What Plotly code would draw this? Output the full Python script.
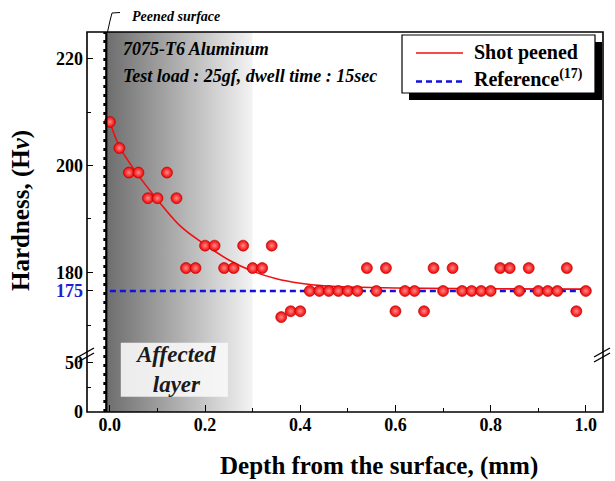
import base64
import plotly.graph_objects as go

# ---------------- data ----------------
depth = [0.00, 0.02, 0.04, 0.06, 0.08, 0.10, 0.12, 0.14, 0.16, 0.18,
         0.20, 0.22, 0.24, 0.26, 0.28, 0.30, 0.32, 0.34, 0.36, 0.38,
         0.40, 0.42, 0.44, 0.46, 0.48, 0.50, 0.52, 0.54, 0.56, 0.58,
         0.60, 0.62, 0.64, 0.66, 0.68, 0.70, 0.72, 0.74, 0.76, 0.78,
         0.80, 0.82, 0.84, 0.86, 0.88, 0.90, 0.92, 0.94, 0.96, 0.98, 1.00]
hardness = [208.2, 203.3, 198.7, 198.7, 193.9, 193.9, 198.7, 193.9, 180.8, 180.8,
            185.0, 185.0, 180.8, 180.8, 185.0, 180.8, 180.8, 185.0, 171.6, 172.7,
            172.7, 176.5, 176.5, 176.5, 176.5, 176.5, 176.5, 180.8, 176.5, 180.8,
            172.7, 176.5, 176.5, 172.7, 180.8, 176.5, 180.8, 176.5, 176.5, 176.5,
            176.5, 180.8, 180.8, 176.5, 180.8, 176.5, 176.5, 176.5, 180.8, 172.7, 176.5]

fit_depth = [0.00, 0.02, 0.05, 0.10, 0.15, 0.20, 0.25, 0.30, 0.35, 0.40,
             0.45, 0.50, 0.60, 0.80, 1.00]
fit_hardness = [208.2, 203.6, 199.4, 193.6, 188.5, 185.2, 182.3, 180.2, 178.8, 177.95,
                177.45, 177.25, 177.05, 176.9, 176.85]

ref_depth = [0.0, 1.0]
ref_value = 176.5          # position of the dashed reference line (labelled 175)
ref_label = "175"

series_names = ["Shot peened", "Reference<sup>(17)</sup>"]

x_ticks = [0.0, 0.2, 0.4, 0.6, 0.8, 1.0]
x_ticktext = ["0.0", "0.2", "0.4", "0.6", "0.8", "1.0"]
x_minor = [0.1, 0.3, 0.5, 0.7, 0.9]
y_upper_ticks = [180, 200, 220]
y_upper_minor = [170, 190, 210]
y_lower_ticks = [0, 50]
y_lower_minor = [25]

affected_limit = 0.3

# ---------------- style ----------------
SERIF = "Liberation Serif"
W, H = 615, 481
ML, MR, MT, MB = 87, 12, 32, 69
PW, PH = W - ML - MR, H - MT - MB
split = 0.158
RED = "#ee1111"
BLUE = "#1010e0"

def px_x(p):
    return (p - ML) / PW

def px_y(p):
    return (H - MB - p) / PH

fig = go.Figure()

# fitted curve
fig.add_trace(go.Scatter(
    x=fit_depth, y=fit_hardness, mode="lines", name=series_names[0],
    line=dict(color=RED, width=1.6, shape="spline", smoothing=1.0),
    xaxis="x", yaxis="y"))
# reference
fig.add_trace(go.Scatter(
    x=ref_depth, y=[ref_value] * len(ref_depth), mode="lines",
    name=series_names[1],
    line=dict(color=BLUE, width=2.5, dash="6px,4px"),
    xaxis="x", yaxis="y"))
# data points
fig.add_trace(go.Scatter(
    x=depth, y=hardness, mode="markers", showlegend=False,
    marker=dict(size=11, color="#f20000",
                gradient=dict(type="radial", color="#ff8a8a"),
                line=dict(color="#b00000", width=0.6)),
    xaxis="x", yaxis="y"))
# empty trace so that the lower (broken) axis segment exists
fig.add_trace(go.Scatter(x=[None], y=[None], mode="markers", showlegend=False,
                         hoverinfo="skip", xaxis="x", yaxis="y2"))

# gradient background image (SVG)
svg = ('<svg xmlns="http://www.w3.org/2000/svg" width="200" height="100" '
       'preserveAspectRatio="none" viewBox="0 0 200 100">'
       '<defs><linearGradient id="g" x1="0" x2="1" y1="0" y2="0">'
       '<stop offset="0" stop-color="#6e6e6e"/>'
       '<stop offset="1" stop-color="#f3f3f3"/></linearGradient></defs>'
       '<rect width="200" height="100" fill="url(#g)"/></svg>')
src = "data:image/svg+xml;base64," + base64.b64encode(svg.encode()).decode()
fig.add_layout_image(dict(source=src, xref="x", yref="paper", x=-0.006, y=1,
                          sizex=affected_limit + 0.006, sizey=1, sizing="stretch",
                          xanchor="left", yanchor="top", layer="below"))

tickfont = dict(family=SERIF, size=18, color="black", weight="bold")

fig.update_layout(
    width=W, height=H,
    margin=dict(l=ML, r=MR, t=MT, b=MB),
    paper_bgcolor="white", plot_bgcolor="rgba(0,0,0,0)",
    showlegend=False,
    xaxis=dict(domain=[0, 1], anchor="y2", range=[-0.048, 1.036],
               tickvals=x_ticks, ticktext=x_ticktext, ticks="inside",
               ticklen=7, tickwidth=1.2, tickcolor="black",
               minor=dict(tickvals=x_minor, ticks="inside", ticklen=4,
                          tickcolor="black", showgrid=False),
               showgrid=False, zeroline=False, showline=False,
               tickfont=tickfont, automargin=False),
    yaxis=dict(domain=[split, 1], anchor="x", range=[165.06, 225.06],
               tickvals=[ref_value] + y_upper_ticks,
               ticktext=['<span style="color:#2020d0">' + ref_label + '</span>']
                        + [str(v) for v in y_upper_ticks],
               ticks="inside", ticklen=6, tickwidth=1.2, tickcolor="black",
               minor=dict(tickvals=y_upper_minor, ticks="inside", ticklen=4,
                          tickcolor="black", showgrid=False),
               showgrid=False, zeroline=False, showline=False,
               tickfont=tickfont, automargin=False, ticklabelstandoff=3),
    yaxis2=dict(domain=[0, split], anchor="x", range=[0, 60.4],
                tickvals=y_lower_ticks, ticktext=[str(v) for v in y_lower_ticks],
                ticks="inside", ticklen=6, tickwidth=1.2, tickcolor="black",
                minor=dict(tickvals=y_lower_minor, ticks="inside", ticklen=4,
                           tickcolor="black", showgrid=False),
                showgrid=False, zeroline=False, showline=False,
                tickfont=tickfont, automargin=False, ticklabelstandoff=3),
)

shapes = []
# legend: shadow, box, keys
shapes.append(dict(type="rect", xref="paper", yref="paper",
                   x0=px_x(409), x1=px_x(602), y0=px_y(100), y1=px_y(42),
                   fillcolor="black", line=dict(width=0), layer="above"))
shapes.append(dict(type="rect", xref="paper", yref="paper",
                   x0=px_x(402), x1=px_x(595), y0=px_y(93), y1=px_y(35),
                   fillcolor="white", line=dict(color="black", width=1.2),
                   layer="above"))
shapes.append(dict(type="line", xref="paper", yref="paper",
                   x0=px_x(416), x1=px_x(463), y0=px_y(53), y1=px_y(53),
                   line=dict(color=RED, width=1.6), layer="above"))
shapes.append(dict(type="line", xref="paper", yref="paper",
                   x0=px_x(416), x1=px_x(463), y0=px_y(81.5), y1=px_y(81.5),
                   line=dict(color=BLUE, width=2.5, dash="6px,4px"), layer="above"))
# affected layer box
shapes.append(dict(type="rect", xref="x", yref="paper",
                   x0=0.023, x1=0.248, y0=px_y(396.7), y1=px_y(342.7),
                   fillcolor="rgba(248,248,248,0.9)", line=dict(width=0),
                   layer="below"))
# peened surface (wavy black line)
shapes.append(dict(type="line", xref="x", yref="paper", x0=-0.0075, x1=-0.0075,
                   y0=0, y1=1, line=dict(color="black", width=2.2), layer="above"))
shapes.append(dict(type="line", xref="x", yref="paper", x0=-0.0105, x1=-0.0105,
                   y0=0, y1=1, line=dict(color="black", width=3, dash="3px,6px"),
                   layer="above"))
# frame
shapes.append(dict(type="rect", xref="paper", yref="paper", x0=0, x1=1, y0=0, y1=1,
                   line=dict(color="black", width=1.6), layer="above"))
# axis break marks (left and right)
for xp in (87, 603):
    for dy in (0, 5):
        shapes.append(dict(type="line", xref="paper", yref="paper",
                           x0=px_x(xp - 9), y0=px_y(357 + dy),
                           x1=px_x(xp + 7), y1=px_y(348 + dy),
                           line=dict(color="black", width=1.4)))
# leader for "Peened surface"
shapes.append(dict(type="path", xref="paper", yref="paper",
                   path=f"M {px_x(107.5)},{px_y(32)} Q {px_x(110)},{px_y(20)} "
                        f"{px_x(112)},{px_y(13)} L {px_x(120)},{px_y(12.5)}",
                   line=dict(color="black", width=1), layer="above"))
fig.update_layout(shapes=shapes)

ann_font = dict(family=SERIF, size=18, color="black", weight="bold", style="italic")
leg_font = dict(family=SERIF, size=20, color="black", weight="bold")
annotations = [
    dict(text=series_names[0], xref="paper", yref="paper",
         x=px_x(472), y=px_y(52), xanchor="left", yanchor="middle",
         showarrow=False, font=leg_font),
    dict(text=series_names[1], xref="paper", yref="paper",
         x=px_x(472), y=px_y(78), xanchor="left", yanchor="middle",
         showarrow=False, font=leg_font),
    dict(text="7075-T6 Aluminum", xref="paper", yref="paper",
         x=px_x(121), y=px_y(49), xanchor="left", yanchor="middle",
         showarrow=False, font=ann_font),
    dict(text="Test load : 25gf, dwell time : 15sec", xref="paper", yref="paper",
         x=px_x(121), y=px_y(76), xanchor="left", yanchor="middle",
         showarrow=False, font=ann_font),
    dict(text="Affected<br>layer", xref="paper", yref="paper",
         x=px_x(175), y=px_y(369.5), xanchor="center", yanchor="middle",
         showarrow=False,
         font=dict(family=SERIF, size=23, color="#1a1a1a", weight="bold", style="italic")),
    dict(text="Peened surface", xref="paper", yref="paper",
         x=px_x(130), y=px_y(16), xanchor="left", yanchor="middle",
         showarrow=False,
         font=dict(family=SERIF, size=14, color="black", weight="bold", style="italic")),
    dict(text="Depth from the surface, (mm)", xref="paper", yref="paper",
         x=px_x(379), y=px_y(466), xanchor="center", yanchor="middle", showarrow=False,
         font=dict(family=SERIF, size=25, color="black", weight="bold")),
    dict(text="Hardness, (H<i>v</i>)", xref="paper", yref="paper",
         x=px_x(21), y=px_y(211), xanchor="center", yanchor="middle", showarrow=False,
         textangle=-90,
         font=dict(family=SERIF, size=25, color="black", weight="bold")),
]
fig.update_layout(annotations=annotations)

fig.write_html("out.html")
